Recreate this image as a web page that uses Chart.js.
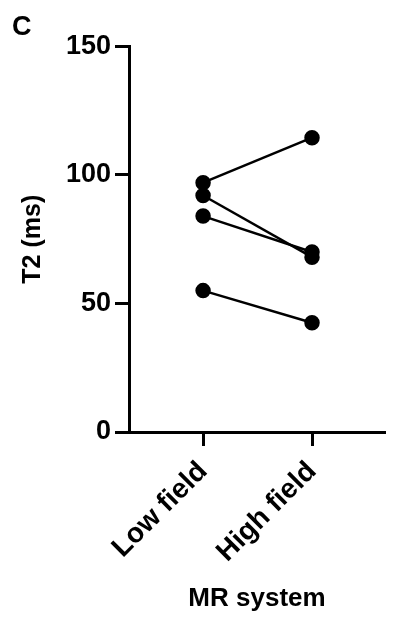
<!DOCTYPE html>
<html>
<head>
<meta charset="utf-8">
<script src="https://cdn.jsdelivr.net/npm/chart.js@4.4.0/dist/chart.umd.min.js"></script>
<style>
  html, body { margin: 0; padding: 0; background: #fff; }
  #wrap { width: 394px; height: 622px; }
</style>
</head>
<body>
<div id="wrap"><canvas id="pairCanvas"></canvas></div>
<script>
const categories = ["Low field", "High field"];
const lowField = [97, 92, 84, 55];
const highField = [114.5, 68, 70, 42.5];
const yTicks = [0, 50, 100, 150];

const font = "'Liberation Sans', Arial, sans-serif";

const datasets = lowField.map((v, i) => ({
    data: [{ x: 1, y: v }, { x: 2, y: highField[i] }],
    borderColor: "#000",
    backgroundColor: "#000",
    borderWidth: 2.5,
    pointRadius: 6.5,
    pointHoverRadius: 6.5,
    showLine: true
}));

const pairCanvas = document.querySelector('#pairCanvas');

const pairChart = new Chart(pairCanvas, {
    type: "scatter",
    data: { datasets },
    options: {
        responsive: true,
        maintainAspectRatio: false,
        animation: false,
        layout: { padding: { left: 12, right: 6, top: 0, bottom: 4 } },
        plugins: {
            legend: { display: false },
            tooltip: { enabled: false },
            title: {
                display: true,
                text: "C",
                align: "start",
                color: "#000",
                font: { family: font, size: 27, weight: "bold" },
                padding: { top: 11, bottom: 3 }
            }
        },
        scales: {
            x: {
                type: "linear",
                min: 0.32,
                max: 2.67,
                afterBuildTicks: (scale) => {
                    scale.ticks = categories.map((c, i) => ({ value: i + 1 }));
                },
                afterFit: (scale) => { scale.height = 186; },
                ticks: {
                    callback: (value) => categories[value - 1],
                    color: "#000",
                    minRotation: 45,
                    maxRotation: 45,
                    padding: 9,
                    font: { family: font, size: 28, weight: "bold" }
                },
                grid: {
                    drawOnChartArea: false,
                    tickLength: 14,
                    tickWidth: 3,
                    tickColor: "#000"
                },
                border: { color: "#000", width: 3 },
                title: {
                    display: true,
                    text: "MR system",
                    color: "#000",
                    font: { family: font, size: 26, weight: "bold" },
                    padding: { top: 0, bottom: 4 }
                }
            },
            y: {
                min: 0,
                max: 150,
                afterBuildTicks: (scale) => {
                    scale.ticks = yTicks.map(v => ({ value: v }));
                },
                afterFit: (scale) => { scale.width = 117; },
                ticks: {
                    color: "#000",
                    padding: 4,
                    font: { family: font, size: 27, weight: "bold" }
                },
                grid: {
                    drawOnChartArea: false,
                    tickLength: 14,
                    tickWidth: 3,
                    tickColor: "#000"
                },
                border: { color: "#000", width: 3 },
                title: {
                    display: true,
                    text: "T2 (ms)",
                    color: "#000",
                    font: { family: font, size: 25, weight: "bold" },
                    padding: { top: 6, bottom: 0 }
                }
            }
        }
    }
});
</script>
</body>
</html>
